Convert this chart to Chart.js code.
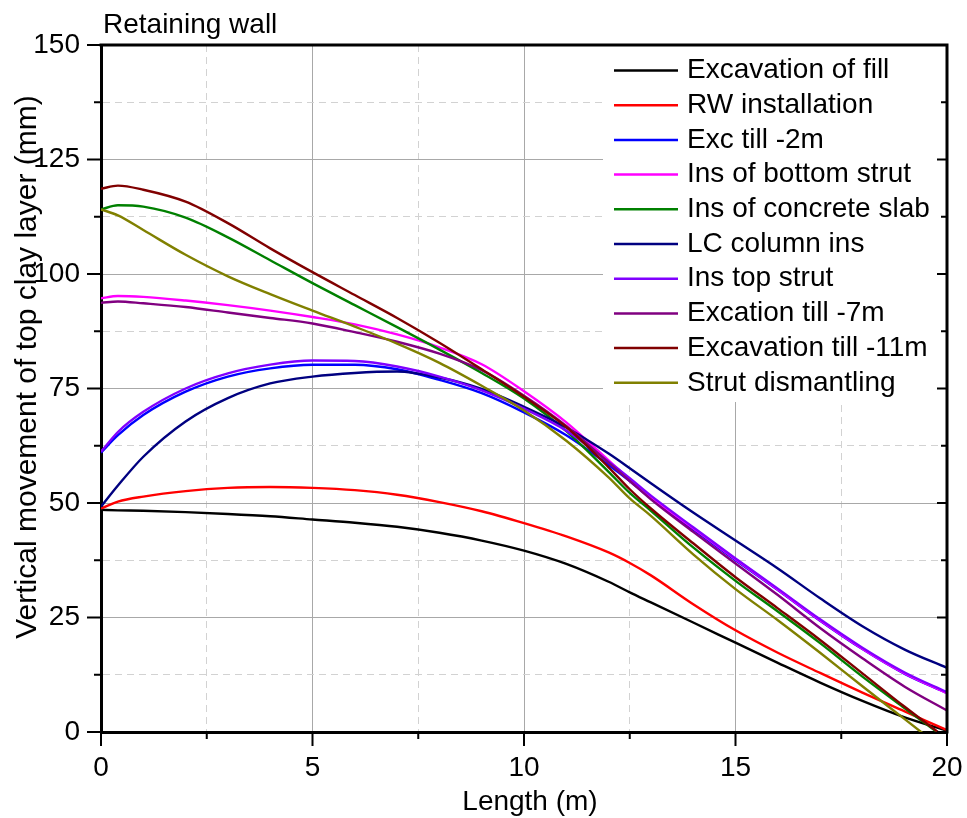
<!DOCTYPE html>
<html>
<head>
<meta charset="utf-8">
<title>Retaining wall</title>
<script src="https://cdn.jsdelivr.net/npm/chart.js@4.4.0/dist/chart.umd.min.js"></script>
<style>
  html, body { margin: 0; padding: 0; background: #fff; }
  #wrap { width: 967px; height: 818px; }
</style>
</head>
<body>
<div id="wrap"><canvas id="wallChart" width="967" height="818"></canvas></div>
<script>
// distance from the wall (m)
const lengthM = [0, 0.4, 1, 2, 3, 4, 5, 6, 7, 8, 9, 10, 11, 12, 12.5, 13, 14, 15, 16, 17, 18, 19, 20];

// vertical movement of the top clay layer (mm) for each construction stage
const excavationOfFill = [48.5, 48.4, 48.3, 48.0, 47.6, 47.1, 46.4, 45.7, 44.8, 43.5, 41.8, 39.6, 36.7, 32.8, 30.5, 28.3, 23.9, 19.5, 15.1, 10.8, 6.8, 3.2, 0.3];
const rwInstallation = [48.8, 50.3, 51.4, 52.6, 53.3, 53.5, 53.3, 52.8, 51.8, 50.2, 48.2, 45.6, 42.7, 39.2, 36.9, 34.2, 27.9, 22.2, 17.3, 12.9, 8.6, 4.5, 0.4];
const excTill2m = [61.0, 64.8, 69.2, 74.3, 77.6, 79.4, 80.2, 80.2, 79.2, 76.9, 74.0, 69.8, 64.8, 58.3, 54.8, 51.0, 44.2, 37.5, 31.0, 24.3, 18.1, 12.7, 8.5];
const insBottomStrut = [94.7, 95.2, 95.0, 94.2, 93.2, 92.0, 90.6, 89.0, 86.8, 84.0, 80.3, 74.4, 67.6, 59.3, 55.2, 51.3, 44.5, 37.7, 31.1, 24.4, 18.2, 12.8, 8.5];
const insConcreteSlab = [114.1, 115.0, 114.7, 112.3, 108.0, 103.0, 98.0, 93.2, 88.4, 83.5, 78.4, 72.8, 65.7, 56.8, 52.2, 48.3, 40.3, 33.0, 26.3, 19.4, 12.1, 5.2, -1.6];
const lcColumnIns = [49.2, 53.8, 60.1, 67.8, 72.9, 76.1, 77.6, 78.4, 78.7, 77.4, 74.9, 71.0, 66.5, 60.8, 57.6, 54.3, 47.9, 41.8, 35.7, 29.2, 23.1, 18.0, 14.0];
const insTopStrut = [61.2, 65.5, 69.9, 75.0, 78.3, 80.2, 81.1, 81.0, 79.8, 77.6, 74.6, 70.6, 65.8, 59.0, 55.4, 51.6, 44.7, 37.9, 31.3, 24.6, 18.4, 13.0, 8.7];
const excTill7m = [93.7, 94.0, 93.6, 92.8, 91.6, 90.4, 89.2, 87.3, 85.2, 82.6, 79.0, 73.4, 66.8, 58.8, 54.8, 50.8, 43.7, 36.8, 29.9, 22.7, 16.1, 9.9, 4.7];
const excTill11m = [118.6, 119.3, 118.4, 115.8, 111.1, 105.6, 100.4, 95.4, 90.4, 85.0, 79.2, 73.2, 66.6, 57.8, 53.0, 48.8, 41.2, 33.8, 27.0, 20.1, 12.8, 5.5, -1.5];
const strutDismantling = [114.1, 112.8, 109.6, 104.2, 99.5, 95.6, 92.0, 88.5, 84.8, 80.6, 75.6, 70.2, 63.6, 55.6, 51.0, 47.2, 38.8, 31.2, 24.4, 17.3, 10.0, 2.8, -4.4];

const stageNames = ['Excavation of fill', 'RW installation', 'Exc till -2m', 'Ins of bottom strut',
    'Ins of concrete slab', 'LC column ins', 'Ins top strut', 'Excation till -7m',
    'Excavation till -11m', 'Strut dismantling'];
const stageValues = [excavationOfFill, rwInstallation, excTill2m, insBottomStrut, insConcreteSlab,
    lcColumnIns, insTopStrut, excTill7m, excTill11m, strutDismantling];
const stageColors = ['#000000', '#ff0000', '#0000ff', '#ff00ff', '#008000',
    '#000080', '#8000ff', '#800080', '#800000', '#808000'];

const FONT = "'Liberation Sans', Arial, sans-serif";
Chart.defaults.font.family = FONT;
Chart.defaults.color = '#000';

const datasets = stageValues.map((vals, i) => ({
    label: stageNames[i],
    data: lengthM.map((x, j) => ({x: x, y: vals[j]})),
    borderColor: stageColors[i],
    backgroundColor: stageColors[i],
    borderWidth: 2.4,
    pointRadius: 0,
    cubicInterpolationMode: 'monotone',
    order: stageValues.length - i // later stages drawn on top
}));

// minor grid lines are dashed, major ones solid
const isMinor = (c, step) => c.tick && Math.abs(c.tick.value % step) > 1e-6;
const gridColor = step => c => isMinor(c, step) ? '#d2d2d2' : '#a8a8a8';
const gridDash = step => c => isMinor(c, step) ? [7, 5] : [];

// title, in-plot legend, frame and tick marks
const framePlugin = {
    id: 'frame',
    beforeDatasetsDraw(chart) {
        const ctx = chart.ctx;
        const {right, top} = chart.chartArea;
        ctx.save();
        ctx.fillStyle = '#fff';
        ctx.fillRect(603, top + 1, right - 603, 401 - top);
        ctx.font = '28px ' + FONT;
        ctx.textBaseline = 'middle';
        chart.data.datasets.forEach((ds, i) => {
            const y = 70.5 + i * 34.7;
            ctx.strokeStyle = ds.borderColor;
            ctx.lineWidth = 2.5;
            ctx.beginPath();
            ctx.moveTo(614, y);
            ctx.lineTo(678, y);
            ctx.stroke();
            ctx.fillStyle = '#000';
            ctx.fillText(ds.label, 687, y);
        });
        ctx.restore();
    },
    afterDraw(chart) {
        const ctx = chart.ctx;
        const {left, right, top, bottom} = chart.chartArea;
        const xs = chart.scales.x, ys = chart.scales.y;
        ctx.save();
        ctx.strokeStyle = '#000';
        ctx.lineWidth = 2;
        ctx.beginPath();
        xs.ticks.forEach(t => {
            const px = xs.getPixelForValue(t.value);
            const len = t.value % 5 === 0 ? 14 : 7;
            ctx.moveTo(px, bottom);
            ctx.lineTo(px, bottom + len);
        });
        ys.ticks.forEach(t => {
            const py = ys.getPixelForValue(t.value);
            const major = t.value % 25 === 0;
            ctx.moveTo(left - (major ? 14 : 7), py);
            ctx.lineTo(left, py);
            ctx.moveTo(right, py);
            ctx.lineTo(right - (major ? 10 : 6), py);
        });
        ctx.stroke();
        ctx.lineWidth = 3;
        ctx.beginPath();
        ctx.moveTo(left - 1.5, top);
        ctx.lineTo(right, top);
        ctx.lineTo(right, bottom + 1.5);
        ctx.stroke();

        ctx.fillStyle = '#000';
        ctx.font = '28px ' + FONT;
        ctx.textAlign = 'left';
        ctx.textBaseline = 'alphabetic';
        ctx.fillText('Retaining wall', 103, 33);

        ctx.textAlign = 'center';
        ctx.fillText('Length (m)', 530, 810);

        ctx.font = '30px ' + FONT;
        ctx.translate(36, 367);
        ctx.rotate(-Math.PI / 2);
        ctx.fillText('Vertical movement of top clay layer (mm)', 0, 0);
        ctx.restore();
    }
};

new Chart(document.getElementById('wallChart').getContext('2d'), {
    type: 'line',
    data: {datasets: datasets},
    options: {
        responsive: false,
        animation: false,
        layout: {padding: {top: 45, right: 20, left: 0, bottom: 0}},
        plugins: {
            legend: {display: false},
            tooltip: {enabled: false}
        },
        scales: {
            x: {
                type: 'linear',
                min: 0,
                max: 20,
                ticks: {
                    stepSize: 2.5,
                    autoSkip: false,
                    maxRotation: 0,
                    padding: 4,
                    font: {size: 28},
                    callback: v => v % 5 === 0 ? v : ''
                },
                // invisible tick marks only push the labels down; visible ones come from the plugin
                grid: {drawTicks: true, tickLength: 15, tickColor: 'rgba(0,0,0,0)', color: gridColor(5), lineWidth: 1},
                border: {color: '#000', width: 3, dash: gridDash(5)},
                afterFit: s => { s.height = 86; }
            },
            y: {
                type: 'linear',
                min: 0,
                max: 150,
                ticks: {
                    stepSize: 12.5,
                    autoSkip: false,
                    padding: 21,
                    font: {size: 28},
                    callback: v => v % 25 === 0 ? v : ''
                },
                grid: {drawTicks: false, color: gridColor(25), lineWidth: 1},
                border: {color: '#000', width: 3, dash: gridDash(25)},
                afterFit: s => { s.width = 101; }
            }
        }
    },
    plugins: [framePlugin]
});
</script>
</body>
</html>
